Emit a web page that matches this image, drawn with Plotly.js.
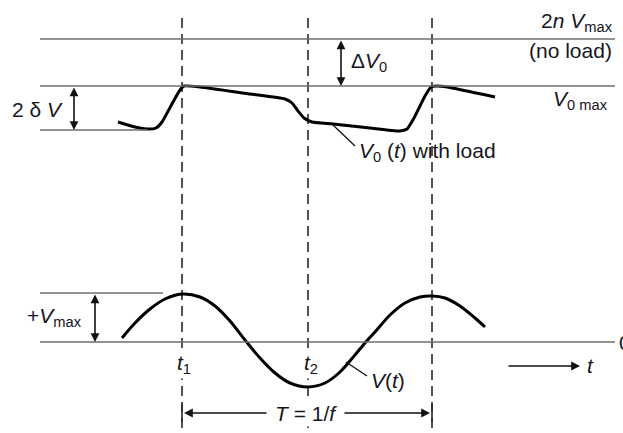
<!DOCTYPE html>
<html>
<head>
<meta charset="utf-8">
<script src="https://cdn.plot.ly/plotly-3.0.1.min.js"></script>
<style>html,body{margin:0;padding:0;background:#fff;}#chart{width:623px;height:433px;}</style>
</head>
<body>
<div id="chart"></div>
<script>
// ---- Data (diagram coordinates) ----
// Output voltage with load, V0(t)
const v0X = [118,135,147,156,162,173,180,184,200,250,285,292,298,304,312,333,370,400,407,414,425,431,436,447,495];
const v0Y = [122,127,129,128,122,102,90,86,87,94,99,103,111,118,122,124,128,131,129,118,96,87,86,87,97];
// Input sinusoid V(t)
const sinX = [122,135,150,165,182,200,215,230,245,260,275,290,308,325,340,355,365,375,390,405,420,432,445,460,475,485];
const sinY = [338,323,309,299,294,297,306,321,340,358,373,383,387,383,372,355,343,332,315,303,297,296,298,306,318,327];
// Horizontal reference levels: [y, xStart, xEnd]
const levelNames = ["2n Vmax", "V0 max", "V0 min", "+Vmax", "zero"];
const levelY     = [39, 86, 130, 293, 342];
const levelX0    = [40, 40, 40, 40, 40];
const levelX1    = [615, 615, 148, 163, 615];
// Dashed time markers t1, t2, t1+T
const markerX = [182, 308, 432];
const markerTop = 18, markerBottom = 433;
// Double-headed dimension arrows: [x, yTop, yBottom]
const dimNames = ["ΔV0", "2δV", "+Vmax"];
const dimX   = [341, 74, 95];
const dimTop = [39, 86, 293];
const dimBot = [86, 130, 342];
// Period arrow
const periodY = 413;
// Text labels
const labels = [
  {t: "2<i>n</i> <i>V</i><sub>max</sub>", x: 615, y: 22, a: "right"},
  {t: "(no load)", x: 614, y: 50, a: "right"},
  {t: "<i>V</i><sub>0 max</sub>", x: 610, y: 100, a: "right"},
  {t: "Δ<i>V</i><sub>0</sub>", x: 349, y: 62, a: "left"},
  {t: "2 δ <i>V</i>", x: 10, y: 109, a: "left"},
  {t: "<i>V</i><sub>0</sub> (<i>t</i>) with load", x: 357, y: 152, a: "left"},
  {t: "+<i>V</i><sub>max</sub>", x: 25, y: 317, a: "left"},
  {t: "<i>t</i><sub>1</sub>", x: 184, y: 364, a: "center"},
  {t: "<i>t</i><sub>2</sub>", x: 311, y: 364, a: "center"},
  {t: "<i>V</i>(<i>t</i>)", x: 369, y: 380, a: "left"},
  {t: "<i>t</i>", x: 585, y: 365, a: "left"},
  {t: "0", x: 617, y: 342, a: "left"}
];

// ---- Build ----
const txtColor = "#16161e";
const font = {family: "Liberation Sans, Arial, sans-serif", size: 21, color: txtColor};

const shapes = [];
for (let i = 0; i < levelY.length; i++) {
  shapes.push({type: "line", xref: "x", yref: "y", x0: levelX0[i], x1: levelX1[i], y0: levelY[i], y1: levelY[i],
    line: {color: "#6e6e6e", width: 1.6}});
}
for (const mx of markerX) {
  shapes.push({type: "line", xref: "x", yref: "y", x0: mx, x1: mx, y0: markerTop, y1: markerBottom,
    line: {color: "#2a2a2a", width: 1.6, dash: "10px,6px"}, layer: "below"});
}
// solid ticks at ends of the period dimension
shapes.push({type: "line", xref: "x", yref: "y", x0: markerX[0], x1: markerX[0], y0: periodY - 9, y1: periodY + 9, line: {color: "#2a2a2a", width: 1.6}});
shapes.push({type: "line", xref: "x", yref: "y", x0: markerX[2], x1: markerX[2], y0: periodY - 9, y1: periodY + 9, line: {color: "#2a2a2a", width: 1.6}});
// leader lines
shapes.push({type: "line", xref: "x", yref: "y", x0: 333, x1: 355, y0: 125, y1: 146, line: {color: "#111", width: 1.3}});
shapes.push({type: "line", xref: "x", yref: "y", x0: 346, x1: 367, y0: 362, y1: 376, line: {color: "#111", width: 1.3}});

const annotations = [];
for (let i = 0; i < dimX.length; i++) {
  annotations.push({xref: "x", yref: "y", axref: "x", ayref: "y", x: dimX[i], y: dimBot[i], ax: dimX[i], ay: dimTop[i],
    showarrow: true, arrowhead: 2, arrowside: "end+start", arrowsize: 1.1, arrowwidth: 1.6, arrowcolor: "#111", text: ""});
}
// period arrows
annotations.push({xref: "x", yref: "y", axref: "x", ayref: "y", x: markerX[0] + 2, y: periodY, ax: 268, ay: periodY,
  showarrow: true, arrowhead: 2, arrowsize: 1.1, arrowwidth: 1.6, arrowcolor: "#111", text: ""});
annotations.push({xref: "x", yref: "y", axref: "x", ayref: "y", x: markerX[2] - 2, y: periodY, ax: 343, ay: periodY,
  showarrow: true, arrowhead: 2, arrowsize: 1.1, arrowwidth: 1.6, arrowcolor: "#111", text: ""});
annotations.push({xref: "x", yref: "y", x: 306, y: periodY, text: "<i>T</i> = 1/<i>f</i>", showarrow: false, font: font,
  xanchor: "center", yanchor: "middle", bgcolor: "#fff"});
// time direction arrow
annotations.push({xref: "x", yref: "y", axref: "x", ayref: "y", x: 580, y: 366, ax: 507, ay: 366,
  showarrow: true, arrowhead: 2, arrowsize: 1.1, arrowwidth: 1.6, arrowcolor: "#111", text: ""});
for (const l of labels) {
  const a = {xref: "x", yref: "y", x: l.x, y: l.y, text: l.t, showarrow: false, font: font, xanchor: l.a, yanchor: "middle"};
  if (l.t.indexOf("<sub>1</sub>") >= 0 || l.t.indexOf("<sub>2</sub>") >= 0) { a.bgcolor = "#fff"; }
  annotations.push(a);
}

const traces = [
  {x: v0X, y: v0Y, mode: "lines", line: {color: "#000", width: 3, shape: "spline", smoothing: 0.5}, hoverinfo: "skip"},
  {x: sinX, y: sinY, mode: "lines", line: {color: "#000", width: 3, shape: "spline", smoothing: 0.8}, hoverinfo: "skip"}
];

const layout = {
  width: 623, height: 433,
  margin: {l: 0, r: 0, t: 0, b: 0},
  paper_bgcolor: "#fff", plot_bgcolor: "#fff",
  showlegend: false,
  xaxis: {range: [0, 623], visible: false, fixedrange: true},
  yaxis: {range: [433, 0], visible: false, fixedrange: true},
  shapes: shapes,
  annotations: annotations
};
Plotly.newPlot("chart", traces, layout, {staticPlot: true, displayModeBar: false});
</script>
</body>
</html>
